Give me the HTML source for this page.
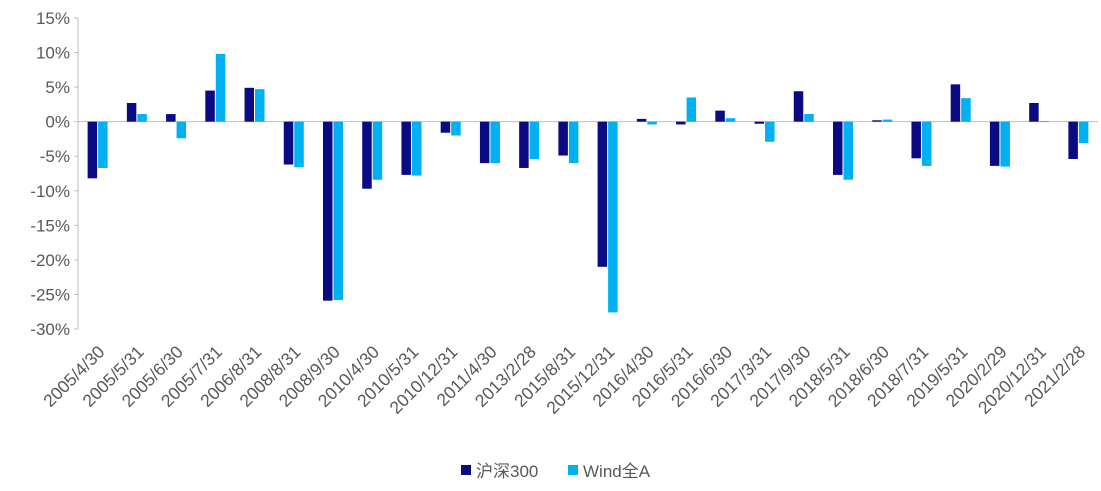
<!DOCTYPE html>
<html><head><meta charset="utf-8"><style>
body{margin:0;background:#fff;}
svg{font-family:"Liberation Sans","Noto Sans CJK SC",sans-serif;}
</style></head><body>
<svg id="chart" width="1101" height="486" xmlns="http://www.w3.org/2000/svg">
<g id="axes"></g><g id="bars"></g>
<g>
<rect x="461" y="465" width="10" height="10" fill="#0a0a82"/>
<text x="476" y="477" font-size="17" fill="#595959">沪深300</text>
<rect x="568" y="465" width="10" height="10" fill="#00b0f0"/>
<text x="583" y="477" font-size="17" fill="#595959">Wind全A</text>
</g>
</svg>
<script>
const categories=["2005/4/30","2005/5/31","2005/6/30","2005/7/31","2006/8/31","2008/8/31","2008/9/30","2010/4/30","2010/5/31","2010/12/31","2011/4/30","2013/2/28","2015/8/31","2015/12/31","2016/4/30","2016/5/31","2016/6/30","2017/3/31","2017/9/30","2018/5/31","2018/6/30","2018/7/31","2019/5/31","2020/2/29","2020/12/31","2021/2/28"];
const hs300=[-8.2,2.7,1.1,4.5,4.9,-6.2,-25.9,-9.7,-7.7,-1.6,-6.0,-6.7,-4.9,-21.0,0.4,-0.4,1.6,-0.3,4.4,-7.7,0.2,-5.3,5.4,-6.4,2.7,-5.4];
const windA=[-6.7,1.1,-2.4,9.8,4.7,-6.6,-25.8,-8.4,-7.8,-2.0,-6.0,-5.4,-6.0,-27.6,-0.4,3.5,0.5,-2.9,1.1,-8.4,0.3,-6.4,3.4,-6.5,0.1,-3.1];
const yTicks=[15,10,5,0,-5,-10,-15,-20,-25,-30];
const NS="http://www.w3.org/2000/svg";
const plotLeft=78,plotRight=1098,plotTop=18,plotBottom=329,yMax=15,yMin=-30;
const yScale=v=>plotTop+(yMax-v)/(yMax-yMin)*(plotBottom-plotTop);
const step=(plotRight-plotLeft)/categories.length;
const xc=i=>plotLeft+step*(i+0.5);
const axesG=document.getElementById('axes'),barsG=document.getElementById('bars');
function mk(t,a,p){const e=document.createElementNS(NS,t);for(const k in a)e.setAttribute(k,a[k]);p.appendChild(e);return e;}
yTicks.forEach(v=>{
  const t=mk('text',{x:plotLeft-8,y:yScale(v)+6,'text-anchor':'end','font-size':17,fill:'#595959'},axesG);
  t.textContent=v+'%';
  
  
  const tk=mk('line',{x1:plotLeft-4,x2:plotLeft,y1:yScale(v),y2:yScale(v),stroke:'#bfbfbf'},axesG);
  
  
});
const ya=mk('line',{x1:plotLeft,x2:plotLeft,y1:plotTop,y2:plotBottom,stroke:'#bfbfbf'},axesG);


const bw=9.5;
categories.forEach((c,i)=>{
  const cx=xc(i);
  [[hs300[i],'#0a0a82',cx-bw-0.5,'bar-hs300'],[windA[i],'#00b0f0',cx+0.5,'bar-winda']].forEach(([v,col,x,n])=>{
    const r=mk('rect',{x:x,y:Math.min(yScale(v),yScale(0)),width:bw,height:Math.abs(yScale(v)-yScale(0)),fill:col},barsG);
    
    
  });
  const lx=cx+8,ly=yScale(-30)+24;
  const t=mk('text',{x:lx,y:ly,'text-anchor':'end','font-size':17.5,fill:'#595959',transform:`rotate(-45 ${lx} ${ly})`},axesG);
  t.textContent=c;
  
  
});
const xa=mk('line',{x1:plotLeft,x2:plotRight,y1:yScale(0),y2:yScale(0),stroke:'#bfbfbf'},axesG);


</script>
</body></html>
